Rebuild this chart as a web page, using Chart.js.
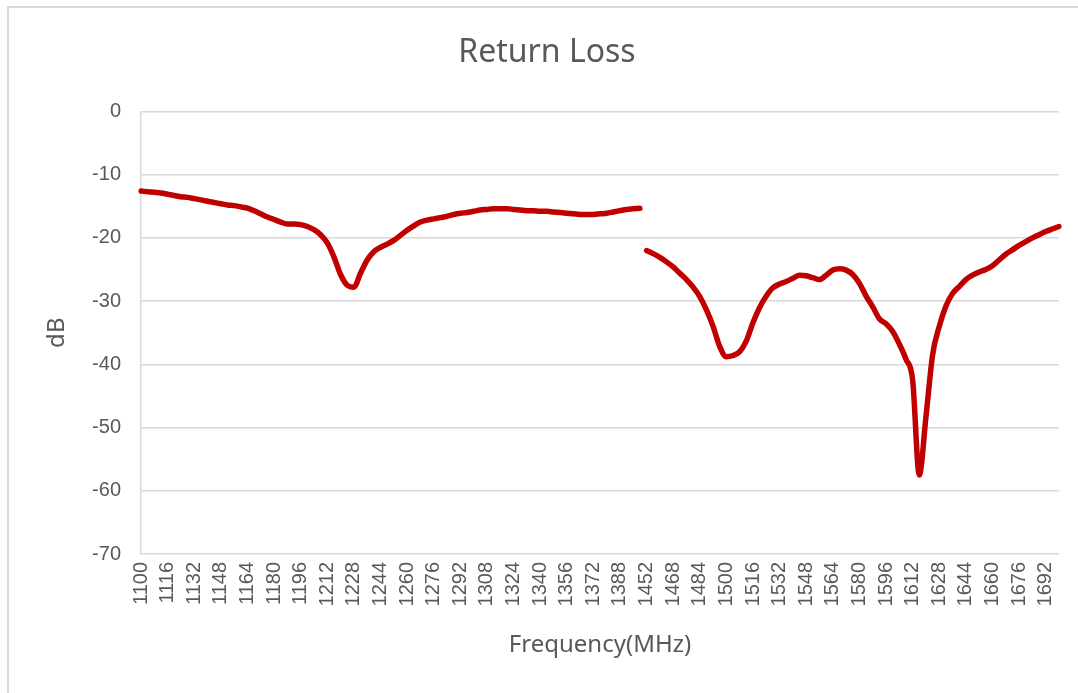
<!DOCTYPE html>
<html>
<head>
<meta charset="utf-8">
<title>Return Loss</title>
<script src="https://cdn.jsdelivr.net/npm/chart.js@4"></script>
<style>
  html, body { margin: 0; padding: 0; background: #fff; }
  #wrap { position: relative; width: 1078px; height: 693px; }
  #frame { position: absolute; left: 7px; top: 6px; right: -2px; bottom: -2px;
           border-left: 2px solid #d9d9d9; border-top: 2px solid #d9d9d9; }
  canvas { position: absolute; left: 0; top: 0; }
</style>
</head>
<body>
<div id="wrap">
  <div id="frame"></div>
  <canvas id="rlChart" width="1078" height="693"></canvas>
</div>
<script>
// Sweep 1: 1100-1400 MHz, sweep 2: 1452-1700 MHz, 4 MHz step
const sweep1 = { start: 1100, stop: 1400, step: 4 };
const sweep2 = { start: 1452, stop: 1700, step: 4 };

// Return loss (dB), one value per 4 MHz
const rl1 = [
  -12.6, -12.7, -12.8, -12.9, -13.1, -13.3, -13.5, -13.6,   // 1100-1128
  -13.8, -14.0, -14.2, -14.4, -14.6, -14.8, -14.9, -15.1,   // 1132-1160
  -15.3, -15.7, -16.2, -16.7, -17.1, -17.5, -17.8, -17.8,   // 1164-1192
  -17.9, -18.2, -18.7, -19.5, -20.8, -23.0, -25.8, -27.5,   // 1196-1224
  -27.8, -25.6, -23.5, -22.2, -21.5, -21.0, -20.4, -19.6,   // 1228-1256
  -18.8, -18.1, -17.5, -17.2, -17.0, -16.8, -16.6, -16.3,   // 1260-1288
  -16.1, -16.0, -15.8, -15.6, -15.5, -15.4, -15.4, -15.4,   // 1292-1320
  -15.5, -15.6, -15.7, -15.7, -15.8, -15.8, -15.9, -16.0,   // 1324-1352
  -16.1, -16.2, -16.3, -16.3, -16.3, -16.2, -16.1, -15.9,   // 1356-1384
  -15.7, -15.5, -15.4, -15.3                                // 1388-1400
];
const rl2 = [
  -22.0, -22.5, -23.1, -23.8, -24.6, -25.6, -26.6, -27.8,   // 1452-1480
  -29.3, -31.4, -34.0, -37.2, -38.8, -38.6, -38.0, -36.3,   // 1484-1512
  -33.4, -31.0, -29.2, -27.9, -27.3, -26.9, -26.4, -25.9,   // 1516-1544
  -26.0, -26.3, -26.6, -25.9, -25.1, -24.9, -25.1, -25.8,   // 1548-1576
  -27.2, -29.2, -30.9, -32.8, -33.6, -34.8, -36.8, -39.2,   // 1580-1608
  -42.5, -57.5, -48.3, -38.5, -34.0, -30.8, -28.8, -27.7,   // 1612-1640
  -26.6, -25.9, -25.4, -25.0, -24.4, -23.5, -22.6, -21.9,   // 1644-1672
  -21.2, -20.6, -20.0, -19.5, -19.0, -18.6, -18.2           // 1676-1700
];

// Labels shown on the frequency axis
const tickLabels = [
  1100, 1116, 1132, 1148, 1164, 1180, 1196, 1212, 1228, 1244,
  1260, 1276, 1292, 1308, 1324, 1340, 1356, 1372, 1388,
  1452, 1468, 1484, 1500, 1516, 1532, 1548, 1564, 1580, 1596,
  1612, 1628, 1644, 1660, 1676, 1692
];

const yTicks = { min: -70, max: 0, step: 10 };

function sweepFreqs(s) {
  const out = [];
  for (let f = s.start; f <= s.stop; f += s.step) out.push(f);
  return out;
}

const freqs1 = sweepFreqs(sweep1);
const freqs2 = sweepFreqs(sweep2);
const categories = freqs1.concat(freqs2).map(String);

const grey = "#595959";
const red = "#c00000";

const lineStyle = {
  borderColor: red,
  backgroundColor: red,
  borderWidth: 5.5,
  pointRadius: 0,
  pointHoverRadius: 0,
  fill: false,
  cubicInterpolationMode: "monotone",
  borderCapStyle: "round",
  borderJoinStyle: "round",
  spanGaps: false
};

const ctx = document.getElementById("rlChart").getContext("2d");
new Chart(ctx, {
  type: "line",
  data: {
    labels: categories,
    datasets: [
      Object.assign({ label: "RL 1", data: freqs1.map((f, i) => ({ x: String(f), y: rl1[i] })) }, lineStyle),
      Object.assign({ label: "RL 2", data: freqs2.map((f, i) => ({ x: String(f), y: rl2[i] })) }, lineStyle)
    ]
  },
  options: {
    responsive: false,
    animation: false,
    // left padding pushes the title centre to the middle of the Excel frame
    layout: { padding: { left: 35, right: 19, top: 0, bottom: 0 } },
    plugins: {
      legend: { display: false },
      tooltip: { enabled: false },
      title: {
        display: true,
        text: "Return Loss",
        color: grey,
        font: { family: "'Noto Sans', sans-serif", size: 32, weight: "normal" },
        padding: { top: 34, bottom: 39 }
      }
    },
    scales: {
      x: {
        type: "category",
        offset: false,
        grid: { display: false, drawTicks: false },
        border: { display: false },
        ticks: {
          autoSkip: false,
          minRotation: 90,
          maxRotation: 90,
          padding: 8,
          color: grey,
          font: { family: "'Liberation Sans', Arial, sans-serif", size: 20 },
          callback: function (value) {
            const lbl = Number(this.getLabelForValue(value));
            return tickLabels.includes(lbl) ? String(lbl) : null;
          }
        },
        title: {
          display: true,
          text: "Frequency(MHz)",
          color: grey,
          font: { family: "'Noto Sans', sans-serif", size: 24 },
          padding: { top: 0, bottom: 33 }
        },
        afterFit: function (scale) { scale.height = 139; }
      },
      y: {
        min: yTicks.min,
        max: yTicks.max,
        grid: { color: "#d9d9d9", lineWidth: 1.5, drawTicks: false },
        border: { display: true, color: "#d9d9d9", width: 1.5 },
        ticks: {
          stepSize: yTicks.step,
          padding: 20,
          color: grey,
          font: { family: "'Liberation Sans', Arial, sans-serif", size: 20 }
        },
        title: {
          display: true,
          text: "dB",
          color: grey,
          font: { family: "'Noto Sans', sans-serif", size: 24 },
          padding: { top: 8, bottom: 0 }
        },
        afterFit: function (scale) { scale.width = 106; }
      }
    }
  }
});
</script>
</body>
</html>
